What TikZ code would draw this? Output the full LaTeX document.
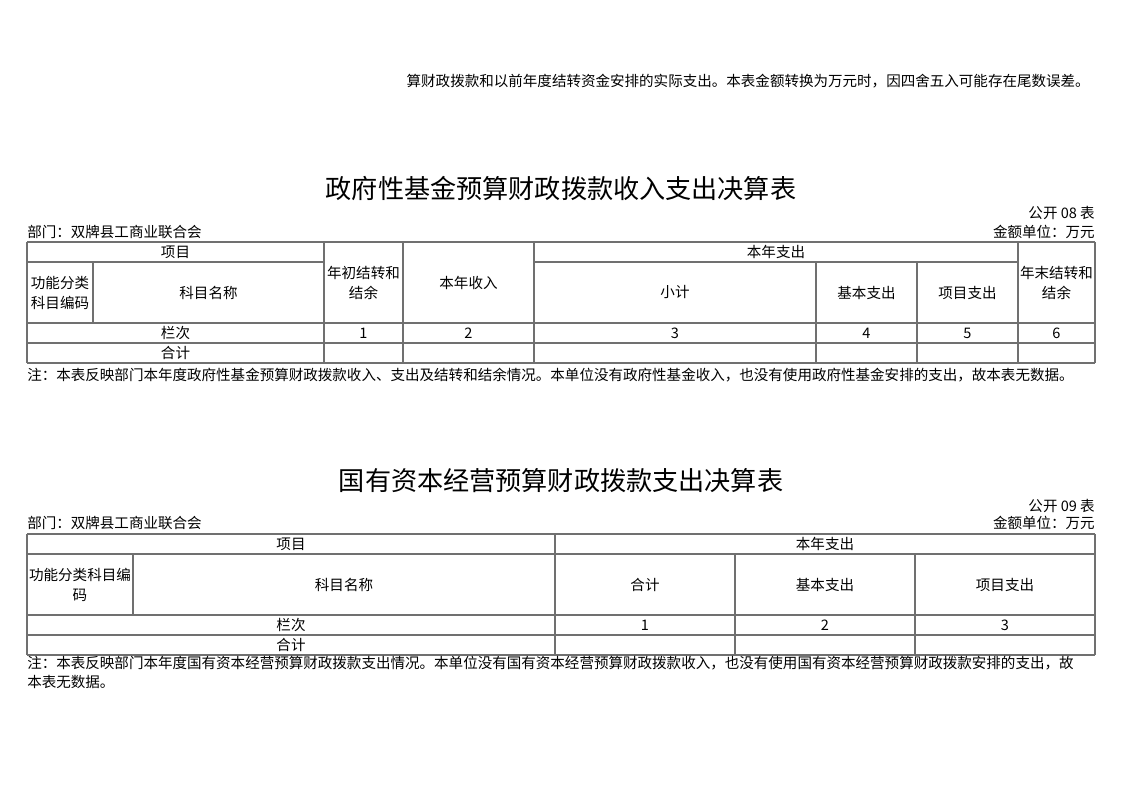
\documentclass[tikz,border=0pt]{standalone}
\usepackage{fontspec}
\setmainfont{Noto Sans CJK SC}
\usepackage{tikz}
\usetikzlibrary{calc,positioning}
\usepackage{xcolor}
\definecolor{rulegray}{RGB}{112,112,112}
\tikzset{
    celltext/.style={inner sep=0pt, font=\fontsize{10.9pt}{15pt}\selectfont, align=center},
    plaintext/.style={inner sep=0pt, font=\fontsize{10.9pt}{14pt}\selectfont},
    titletext/.style={inner sep=0pt, font=\fontsize{19.6pt}{22pt}\selectfont},
    rule/.style={draw=rulegray, line width=0.85pt}
}

\begin{document}
\begin{tikzpicture}[x=0.75pt, y=-0.75pt]

        \useasboundingbox[fill=white] (0,0) rectangle (1122,793);

        % Text at the top of the page
        \node[plaintext, anchor=east] (topline) at (1090,81) {算财政拨款和以前年度结转资金安排的实际支出。本表金额转换为万元时，因四舍五入可能存在尾数误差。};

        % First table: heading lines
        \node[titletext] (titleA) at (561,188) {政府性基金预算财政拨款收入支出决算表};
        \node[plaintext, anchor=east] (codeA) at (1095,213) {公开 08 表};
        \node[plaintext, anchor=west] (deptA) at (27,232) {部门：双牌县工商业联合会};
        \node[plaintext, anchor=east] (unitA) at (1095,232) {金额单位：万元};

        % First table: horizontal rules
        \foreach \y/\xa/\xb in {242/27/1095, 262/27/324, 262/534/1018, 323/27/1095, 343/27/1095, 363/27/1095} {
            \draw[rule] (\xa,\y) -- (\xb,\y);
        }
        % First table: vertical rules
        \foreach \x/\ya/\yb in {27/242/363, 93/262/323, 324/242/363, 403/242/363, 534/242/363, 816/262/363, 917/262/363, 1018/242/363, 1095/242/363} {
            \draw[rule] (\x,\ya) -- (\x,\yb);
        }

        % First table: cell texts
        \node[celltext] (itemA) at (175.5,252) {项目};
        \node[celltext] (spendA) at (776,252) {本年支出};
        \node[celltext] (codecolA) at (60,292.5) {功能分类\\科目编码};
        \node[celltext] (nameA) at (208.5,292.5) {科目名称};
        \node[celltext] (startA) at (363.5,282.5) {年初结转和\\结余};
        \node[celltext] (incomeA) at (468.5,282.5) {本年收入};
        \node[celltext] (subA) at (675,292.5) {小计};
        \node[celltext] (basicA) at (866.5,292.5) {基本支出};
        \node[celltext] (projA) at (967.5,292.5) {项目支出};
        \node[celltext] (endA) at (1056.5,282.5) {年末结转和\\结余};
        \node[celltext] (colA) at (175.5,333) {栏次};
        \foreach \x/\n in {363.5/1, 468.5/2, 675/3, 866.5/4, 967.5/5, 1056.5/6} {
            \node[celltext] (numA\n) at (\x,333) {\n};
        }
        \node[celltext] (sumA) at (175.5,353) {合计};
        \node[plaintext, anchor=west] (noteA) at (27,375) {注：本表反映部门本年度政府性基金预算财政拨款收入、支出及结转和结余情况。本单位没有政府性基金收入，也没有使用政府性基金安排的支出，故本表无数据。};

        % Second table: heading lines
        \node[titletext] (titleB) at (561,481) {国有资本经营预算财政拨款支出决算表};
        \node[plaintext, anchor=east] (codeB) at (1095,506) {公开 09 表};
        \node[plaintext, anchor=west] (deptB) at (27,523) {部门：双牌县工商业联合会};
        \node[plaintext, anchor=east] (unitB) at (1095,523) {金额单位：万元};

        % Second table: horizontal rules
        \foreach \y in {534, 554, 615, 635, 655} {
            \draw[rule] (27,\y) -- (1095,\y);
        }
        % Second table: vertical rules
        \foreach \x/\ya in {27/534, 133/554, 555/534, 735/554, 915/554, 1095/534} {
            \pgfmathsetmacro{\yb}{\x==133 ? 615 : 655}
            \draw[rule] (\x,\ya) -- (\x,\yb);
        }

        % Second table: cell texts
        \node[celltext] (itemB) at (291,544) {项目};
        \node[celltext] (spendB) at (825,544) {本年支出};
        \node[celltext] (codecolB) at (80,584.5) {功能分类科目编\\码};
        \node[celltext] (nameB) at (344,584.5) {科目名称};
        \node[celltext] (totalB) at (645,584.5) {合计};
        \node[celltext] (basicB) at (825,584.5) {基本支出};
        \node[celltext] (projB) at (1005,584.5) {项目支出};
        \node[celltext] (colB) at (291,625) {栏次};
        \foreach \x/\n in {645/1, 825/2, 1005/3} {
            \node[celltext] (numB\n) at (\x,625) {\n};
        }
        \node[celltext] (sumB) at (291,645) {合计};
        \node[plaintext, anchor=west] (noteB) at (27,663) {注：本表反映部门本年度国有资本经营预算财政拨款支出情况。本单位没有国有资本经营预算财政拨款收入，也没有使用国有资本经营预算财政拨款安排的支出，故};
        \node[plaintext, anchor=west] (noteBb) at (27,682) {本表无数据。};

\end{tikzpicture}
\end{document}
